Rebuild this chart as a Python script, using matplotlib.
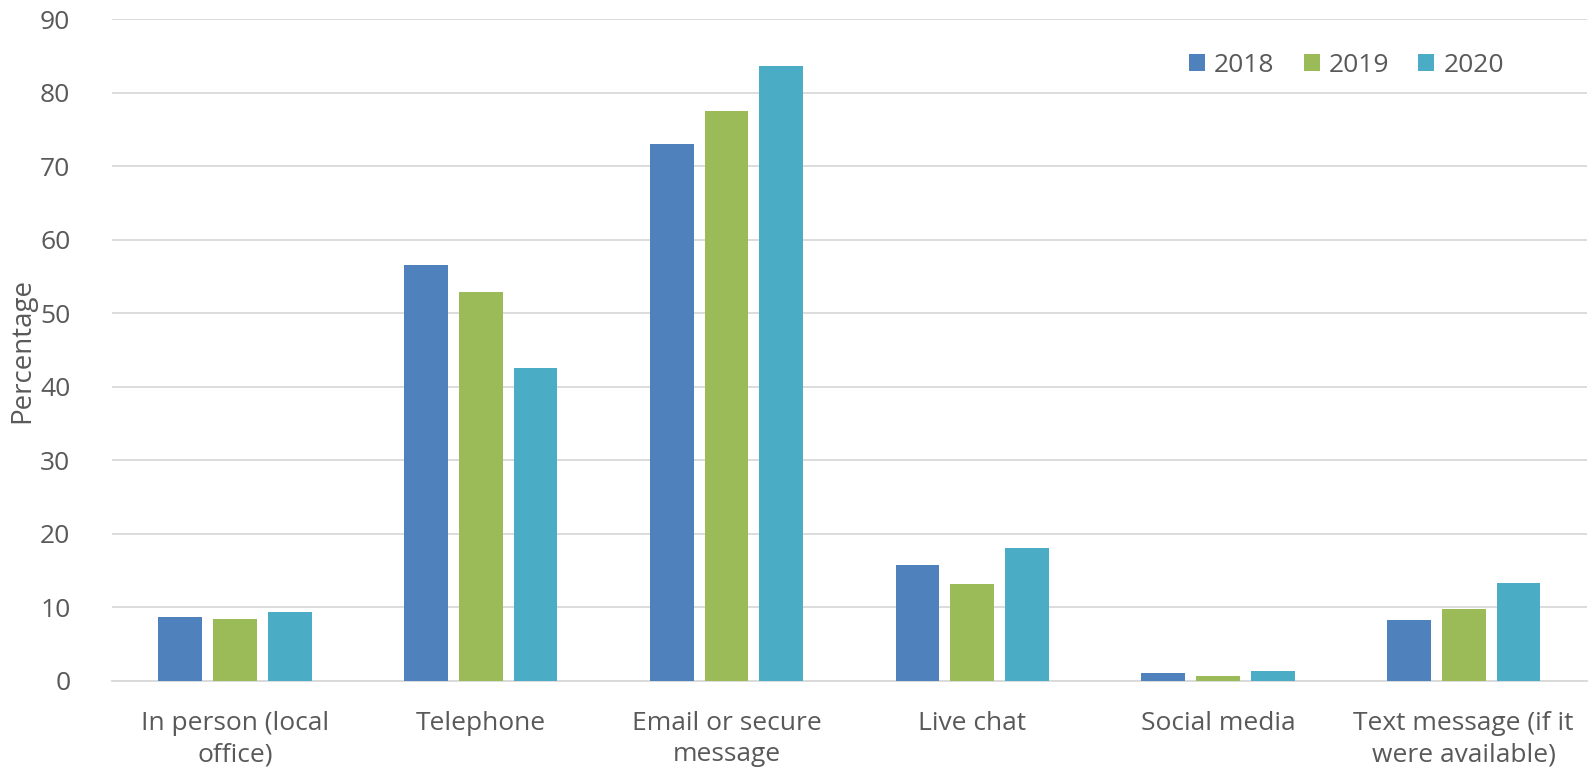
import numpy as np
import matplotlib.pyplot as plt

plt.rcParams['font.family'] = ['Open Sans', 'DejaVu Sans']

categories = ['In person (local\noffice)', 'Telephone', 'Email or secure\nmessage',
              'Live chat', 'Social media', 'Text message (if it\nwere available)']
years = ['2018', '2019', '2020']
v2018 = [8.7, 56.6, 73.1, 15.8, 1.0, 8.2]
v2019 = [8.4, 52.9, 77.6, 13.1, 0.6, 9.8]
v2020 = [9.4, 42.6, 83.7, 18.1, 1.3, 13.3]
colors = ['#4F81BD', '#9BBB59', '#4BACC6']
text_col = '#595959'

fig = plt.figure(figsize=(15.89, 7.78), dpi=100)
ax = fig.add_axes([0.0705, 0.125, 0.928, 0.85])

x = np.arange(len(categories))
width = 0.178
step = 0.223
for i, (vals, yr) in enumerate(zip([v2018, v2019, v2020], years)):
    ax.bar(x + (i - 1) * step, vals, width, color=colors[i], label=yr, zorder=3)

ax.set_xlim(-0.5, 5.5)
ax.set_ylim(0, 90)
ax.set_yticks(range(0, 91, 10))
ax.set_xticks(x)
ax.set_xticklabels(categories, fontsize=19, color=text_col, linespacing=1.3)
ax.tick_params(axis='y', labelsize=19, labelcolor=text_col, length=0, pad=30)
ax.tick_params(axis='x', length=0, pad=22)
ax.grid(axis='y', color='#D9D9D9', linewidth=1.3, zorder=0)
for s in ['top', 'right', 'left']:
    ax.spines[s].set_visible(False)
ax.spines['bottom'].set_color('#D9D9D9')
ax.spines['bottom'].set_linewidth(1.3)
ax.set_ylabel('Percentage', fontsize=20, color=text_col, labelpad=3)

ax.legend(loc='upper right', bbox_to_anchor=(0.96, 0.985), ncol=3, frameon=False,
          fontsize=19, labelcolor=text_col, handlelength=0.6, handleheight=0.6,
          handletextpad=0.35, columnspacing=1.1)

fig.savefig('out.png', dpi=100)
